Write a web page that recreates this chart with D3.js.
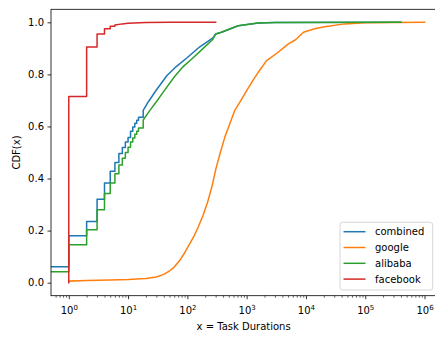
<!DOCTYPE html>
<html>
<head>
<meta charset="utf-8">
<script src="https://cdn.jsdelivr.net/npm/d3@7"></script>
<style>
  html, body { margin: 0; padding: 0; background: #fff; }
  svg { display: block; font-family: "DejaVu Sans", sans-serif; }
</style>
</head>
<body>
<svg id="chart" width="435" height="337"></svg>
<script>
// ---------------- data ----------------
const seriesNames = ["combined", "google", "alibaba", "facebook"];
const seriesColors = ["#1f77b4", "#ff7f0e", "#2ca02c", "#d62728"];

// step part (integer durations; 0.1 stands for zero-length tasks)
const combinedStepX = [0.1, 1, 2, 3, 4, 5, 6, 7, 8, 9, 10, 11, 12, 13, 14, 15];
const combinedStepY = [0.061, 0.18, 0.235, 0.32, 0.383, 0.428, 0.462, 0.496, 0.519, 0.54, 0.558, 0.582, 0.598, 0.612, 0.624, 0.635];
const combinedX = [18, 22, 30, 45, 65, 100, 160, 270, 300, 375, 720, 1560, 3000, 400000];
const combinedY = [0.662, 0.695, 0.74, 0.795, 0.83, 0.865, 0.905, 0.94, 0.955, 0.962, 0.987, 0.997, 0.999, 1.0];

const alibabaStepX = [0.1, 1, 2, 3, 4, 5, 6, 7, 8, 9, 10, 11, 12, 13, 14, 15];
const alibabaStepY = [0.042, 0.146, 0.203, 0.28, 0.343, 0.383, 0.418, 0.452, 0.478, 0.50, 0.52, 0.54, 0.556, 0.57, 0.582, 0.594];
const alibabaX = [18, 23, 30, 40, 60, 85, 120, 185, 270, 300, 375, 720, 1560, 3000, 400000];
const alibabaY = [0.625, 0.66, 0.695, 0.735, 0.79, 0.83, 0.86, 0.90, 0.935, 0.955, 0.962, 0.987, 0.997, 0.999, 1.0];

const facebookStepX = [1, 1, 2, 3, 4, 5];
const facebookStepY = [0.0, 0.715, 0.905, 0.955, 0.975, 0.985];
const facebookX = [6, 8, 10, 20, 50, 300];
const facebookY = [0.99, 0.994, 0.996, 0.999, 1.0, 1.0];

const googleStepX = [];
const googleStepY = [];
const googleX = [1, 2, 5, 10, 20, 30, 40, 50, 60, 74, 90, 110, 130, 150, 185, 220, 260, 305, 360, 430, 520, 632, 800, 1000, 1300, 1570, 2170, 3400, 5060, 6600, 9100, 14000, 20700, 45000, 100000, 300000, 1000000];
const googleY = [0.006, 0.008, 0.010, 0.012, 0.016, 0.022, 0.032, 0.045, 0.06, 0.085, 0.115, 0.15, 0.18, 0.21, 0.26, 0.31, 0.37, 0.44, 0.50, 0.56, 0.61, 0.662, 0.70, 0.738, 0.78, 0.808, 0.853, 0.885, 0.917, 0.932, 0.962, 0.975, 0.983, 0.994, 0.998, 0.9995, 1.0];

const yTicks = [0.0, 0.2, 0.4, 0.6, 0.8, 1.0];
const xTickExps = [0, 1, 2, 3, 4, 5, 6];
const xDomain = [Math.pow(10, -0.3), Math.pow(10, 6.3)];
const yDomain = [-0.05, 1.05];

// ---------------- layout ----------------
const pLeft = 51, pRight = 442.3, pTop = 9.3, pBottom = 295.7;
const svg = d3.select("#chart");

const x = d3.scaleLog().domain(xDomain).range([pLeft, pRight]);
const y = d3.scaleLinear().domain(yDomain).range([pBottom, pTop]);

function buildPoints(stepX, stepY, contX, contY) {
  const pts = [];
  for (let i = 0; i < stepX.length; i++) {
    pts.push([stepX[i], stepY[i]]);
    const nx = i + 1 < stepX.length ? stepX[i + 1] : (contX.length ? contX[0] : null);
    if (nx !== null && nx !== stepX[i]) pts.push([nx, stepY[i]]);
  }
  for (let i = 0; i < contX.length; i++) pts.push([contX[i], contY[i]]);
  return pts;
}

const seriesData = [
  buildPoints(combinedStepX, combinedStepY, combinedX, combinedY),
  buildPoints(googleStepX, googleStepY, googleX, googleY),
  buildPoints(alibabaStepX, alibabaStepY, alibabaX, alibabaY),
  buildPoints(facebookStepX, facebookStepY, facebookX, facebookY)
];

svg.append("defs").append("clipPath").attr("id", "clip")
  .append("rect").attr("x", pLeft).attr("y", pTop).attr("width", pRight - pLeft).attr("height", pBottom - pTop);

const line = d3.line().x(d => x(d[0])).y(d => y(d[1]));

const g = svg.append("g").attr("clip-path", "url(#clip)");
seriesData.forEach((pts, i) => {
  g.append("path")
    .attr("d", line(pts))
    .attr("fill", "none")
    .attr("stroke", seriesColors[i])
    .attr("stroke-width", 1.5)
    .attr("stroke-linejoin", "round")
    .attr("stroke-linecap", "square");
});

// ---------------- axes ----------------
const yAxis = d3.axisLeft(y).tickValues(yTicks).tickFormat(d3.format(".1f")).tickSizeInner(3.5).tickSizeOuter(0).tickPadding(3.5);
const yg = svg.append("g").attr("transform", `translate(${pLeft},0)`).call(yAxis);
yg.select(".domain").remove();
yg.selectAll(".tick line").attr("stroke", "#000").attr("stroke-width", 0.8);
yg.selectAll(".tick text").attr("font-size", 10).attr("fill", "#000").attr("font-family", "DejaVu Sans");

// x minor ticks
const minorVals = [];
for (let e = -1; e <= 6; e++) for (let m = 2; m <= 9; m++) {
  const v = m * Math.pow(10, e);
  if (v >= xDomain[0] && v <= xDomain[1]) minorVals.push(v);
}
const xMinor = d3.axisBottom(x).tickValues(minorVals).tickFormat("").tickSizeInner(2).tickSizeOuter(0);
const xmg = svg.append("g").attr("transform", `translate(0,${pBottom})`).call(xMinor);
xmg.select(".domain").remove();
xmg.selectAll(".tick line").attr("stroke", "#000").attr("stroke-width", 0.6);

const xMajorVals = xTickExps.map(e => Math.pow(10, e));
const xAxis = d3.axisBottom(x).tickValues(xMajorVals).tickFormat("").tickSizeInner(3.5).tickSizeOuter(0);
const xg = svg.append("g").attr("transform", `translate(0,${pBottom})`).call(xAxis);
xg.select(".domain").remove();
xg.selectAll(".tick line").attr("stroke", "#000").attr("stroke-width", 0.8);
xg.selectAll(".tick").each(function(d, i) {
  const t = d3.select(this).append("text")
    .attr("y", 18.5)
    .attr("text-anchor", "middle")
    .attr("fill", "#000")
    .attr("font-size", 10)
    .attr("font-family", "DejaVu Sans");
  t.append("tspan").text("10");
  t.append("tspan").attr("font-size", 7).attr("dy", -4).text(String(xTickExps[i]));
});

// spines
svg.append("rect")
  .attr("x", pLeft).attr("y", pTop).attr("width", pRight - pLeft).attr("height", pBottom - pTop)
  .attr("fill", "none").attr("stroke", "#000").attr("stroke-width", 0.8);

// axis labels
svg.append("text")
  .attr("x", (pLeft + pRight) / 2 - 3).attr("y", 330)
  .attr("text-anchor", "middle").attr("font-size", 10).attr("fill", "#000")
  .text("x = Task Durations");
svg.append("text")
  .attr("transform", `translate(19.5,${(pTop + pBottom) / 2}) rotate(-90)`)
  .attr("text-anchor", "middle").attr("font-size", 10).attr("fill", "#000")
  .text("CDF(x)");

// ---------------- legend ----------------
const lg = svg.append("g");
lg.append("rect")
  .attr("x", 340).attr("y", 222.3).attr("width", 92.7).attr("height", 67.7)
  .attr("rx", 2.5).attr("fill", "#fff").attr("fill-opacity", 0.8)
  .attr("stroke", "#cccccc").attr("stroke-width", 0.8);
seriesNames.forEach((name, i) => {
  const cy = 231.7 + i * 15.8;
  lg.append("line").attr("x1", 343.5).attr("x2", 365.5).attr("y1", cy).attr("y2", cy)
    .attr("stroke", seriesColors[i]).attr("stroke-width", 1.5);
  lg.append("text").attr("x", 375).attr("y", cy + 3.6)
    .attr("font-size", 10).attr("fill", "#000").text(name);
});
</script>
</body>
</html>
